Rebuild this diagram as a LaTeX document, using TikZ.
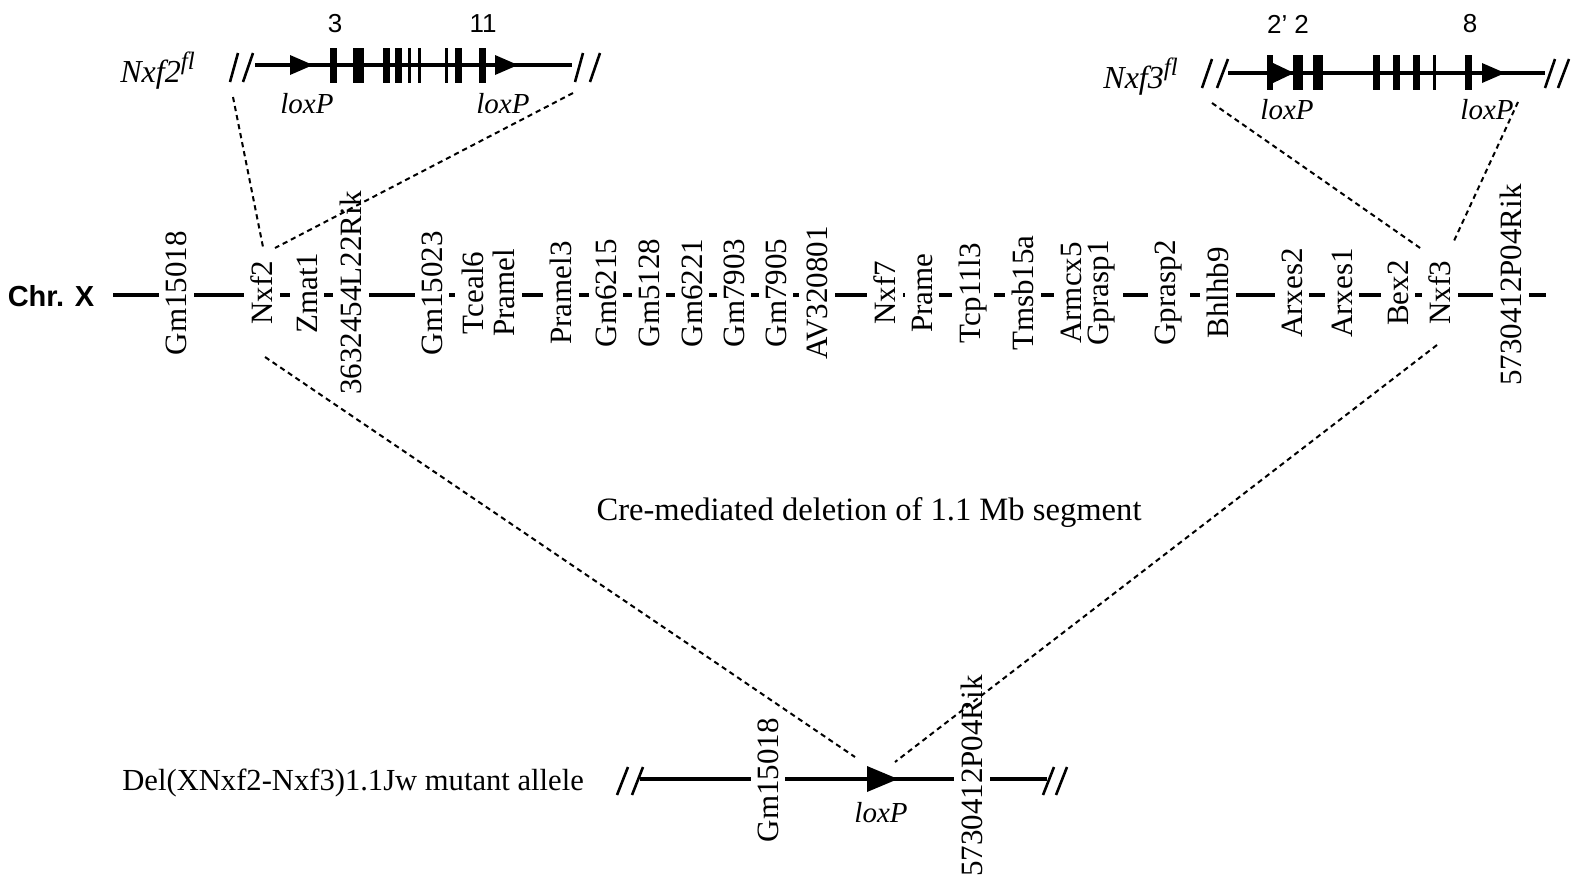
\documentclass[tikz,border=0pt]{standalone}
\usepackage{fontspec}
\setmainfont{Liberation Serif}
\newfontfamily\hsans{Liberation Sans}
\begin{document}
\begin{tikzpicture}[x=0.5pt,y=-0.5pt,
  genefont/.style={rotate=90, inner xsep=1pt, inner ysep=3.5pt, font=\fontsize{15.5}{16}\selectfont},
  geneback/.style={genefont, fill=white},
  gene/.style={genefont},
  chrom/.style={line width=2pt},
  struct/.style={line width=1.7pt},
  brk/.style={line width=1.3pt},
  zoomline/.style={line width=1pt, dash pattern=on 2.6pt off 2pt},
  txt/.style={inner sep=0pt},
  loxlab/.style={txt, font=\fontsize{14.5}{15}\selectfont\itshape, anchor=base},
  exnum/.style={txt, font=\hsans\fontsize{13}{14}\selectfont},
  flname/.style={txt, anchor=base west, font=\fontsize{16}{16}\selectfont\itshape},
]
\useasboundingbox (0,0) rectangle (1574,885);

% ---------- Nxf2 floxed allele ----------
\draw[struct] (255,65) -- (572,65);
\draw[brk] (230,82) -- (238,53);
\draw[brk] (243,82) -- (253,53);
\draw[brk] (575,82) -- (583,53);
\draw[brk] (590,82) -- (600,53);
\fill (290,55) -- (313,65) -- (290,75) -- cycle;
\fill (495,55) -- (518,65) -- (495,75) -- cycle;
\foreach \a/\b in {330/337,353/364,383/390,395/402,408/411,418/421,445/448,455/462,479/486}
  \fill (\a,48) rectangle (\b,83);
\node[exnum] (e3) at (335,24) {3};
\node[exnum] (e11) at (483,24) {11};
\node[loxlab] (lx1) at (307,113) {loxP};
\node[loxlab] (lx2) at (503,113) {loxP};
\node[flname] (n2fl) at (120,82) {Nxf2\raisebox{0.4em}{\fontsize{12.5}{13}\selectfont fl}};

% ---------- Nxf3 floxed allele ----------
\draw[struct] (1228,73) -- (1545,73);
\draw[brk] (1202,88) -- (1212,59);
\draw[brk] (1217,88) -- (1228,59);
\draw[brk] (1545,88) -- (1555,59);
\draw[brk] (1558,88) -- (1569,59);
\fill (1273,63) -- (1294,73) -- (1273,83) -- cycle;
\fill (1482,63) -- (1505,73) -- (1482,83) -- cycle;
\foreach \a/\b in {1267/1273,1293/1303,1313/1323,1373/1380,1393/1400,1413/1420,1433/1436,1465/1472}
  \fill (\a,55) rectangle (\b,90);
\node[exnum] (e22) at (1288,24) {2’ 2};
\node[exnum] (e8) at (1470,24) {8};
\node[loxlab] (lx3) at (1287,119) {loxP};
\node[loxlab] (lx4) at (1487,119) {loxP};
\node[flname] (n3fl) at (1103,88) {Nxf3\raisebox{0.4em}{\fontsize{12.5}{13}\selectfont fl}};

% ---------- Chromosome X ----------
\node[txt, anchor=base, font=\hsans\bfseries\fontsize{14.5}{15}\selectfont] (chr) at (51,306) {Chr. X};
\draw[chrom] (113,295) -- (1546,295);
\def\genelist{176.5/293/g1/Gm15018, 262/293/g2/Nxf2, 307/293/g3/Zmat1, 351/293/g4/3632454L22Rik,
  432/293/g5/Gm15023, 473/293/g6/Tceal6, 504/293/g7/Pramel, 561/293/g8/Pramel3, 606/293/g9/Gm6215,
  649/293/g10/Gm5128, 692/293/g11/Gm6221, 734/293/g12/Gm7903, 776/293/g13/Gm7905, 817/293/g14/AV320801,
  885/293/g15/Nxf7, 922/293/g16/Prame, 973/293/g17/Tcp11l3, 1023/293/g18/Tmsb15a, 1071/293/g19/Armcx5,
  1102/293/g20/Gprasp1, 1169/293/g21/Gprasp2, 1218/293/g22/Bhlhb9, 1292/293/g23/Arxes2, 1342/293/g24/Arxes1,
  1398/293/g25/Bex2, 1440/293/g26/Nxf3, 1511/285/g27/5730412P04Rik}
% white gaps in the chromosome line first, then the names
\foreach \x/\y/\n/\t in \genelist
  \node[geneback] at (\x,\y) {\phantom{\t}};
\foreach \x/\y/\n/\t in \genelist
  \node[gene] (\n) at (\x,\y) {\t};

% ---------- text ----------
\node[txt, anchor=base, font=\fontsize{16.3}{17}\selectfont] (cre) at (869,520) {Cre-mediated deletion of 1.1 Mb segment};
\node[txt, anchor=base west, font=\fontsize{15.3}{16}\selectfont] (del) at (122,790) {Del(XNxf2-Nxf3)1.1Jw mutant allele};

% ---------- deleted allele ----------
\draw[chrom] (640,779) -- (1047,779);
\draw[brk] (617,795) -- (628,767);
\draw[brk] (632,795) -- (643,767);
\draw[brk] (1043,795) -- (1054,767);
\draw[brk] (1056,795) -- (1067,767);
\fill (867,766) -- (898,779) -- (867,792) -- cycle;
\node[loxlab] (lx5) at (881,822) {loxP};
\node[geneback] (b1) at (768,780) {Gm15018};
\node[geneback] (b2) at (972,776) {5730412P04Rik};

% ---------- dotted zoom lines ----------
\coordinate (c1a) at (233,97);  \coordinate (c1b) at (263,247);
\coordinate (c2a) at (573,93);  \coordinate (c2b) at (275,248);
\coordinate (c3a) at (1212,103); \coordinate (c3b) at (1423,250);
\coordinate (c4a) at (1518,102); \coordinate (c4b) at (1453,243);
\coordinate (c5a) at (265,357); \coordinate (c5b) at (855,757);
\coordinate (c6a) at (1437,345); \coordinate (c6b) at (895,762);
\draw[zoomline] (c1a) -- (c1b);
\draw[zoomline] (c2a) -- (c2b);
\draw[zoomline] (c3a) -- (c3b);
\draw[zoomline] (c4a) -- (c4b);
\draw[zoomline] (c5a) -- (c5b);
\draw[zoomline] (c6a) -- (c6b);
\end{tikzpicture}
\end{document}
